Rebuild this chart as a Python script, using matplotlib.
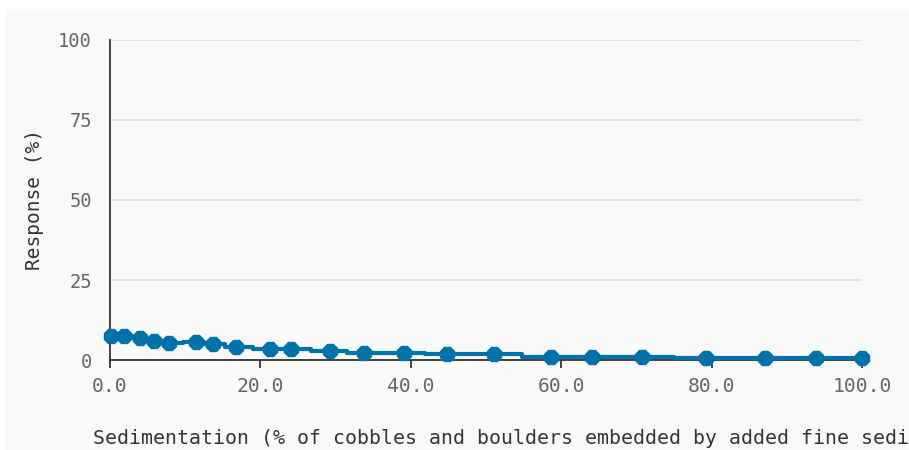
import matplotlib.pyplot as plt
from matplotlib.patches import Rectangle

# values
sedimentation = [0.1, 1.9, 4.0, 5.9, 7.9, 11.4, 13.7, 16.8, 21.3, 24.1, 29.3, 33.8,
                 39.1, 44.8, 51.1, 58.6, 64.1, 70.7, 79.3, 87.1, 93.9, 100.0]
response = [7.5, 7.5, 6.8, 6.0, 5.4, 5.5, 5.0, 4.2, 3.5, 3.5, 2.8, 2.3,
            2.3, 1.8, 1.9, 1.0, 1.0, 1.0, 0.5, 0.5, 0.5, 0.5]
x_ticks = [0, 20, 40, 60, 80, 100]
y_ticks = [0, 25, 50, 75, 100]

blue = '#0072aa'
grey = '#666666'
mono = 'DejaVu Sans Mono'

fig = plt.figure(figsize=(9.09, 4.5), dpi=100)
fig.patch.set_facecolor('white')
fig.patches.append(Rectangle((5 / 909, 0), 1, 441 / 450, transform=fig.transFigure,
                             facecolor='#f9f9f9', edgecolor='none', zorder=-10))

ax = fig.add_axes([110 / 909, 90 / 450, 752 / 909, 320 / 450])
ax.set_facecolor('none')

ax.plot(sedimentation, response, color=blue, lw=3, drawstyle='steps-mid', zorder=3)
ax.plot(sedimentation, response, color=blue, lw=0, marker='8', ms=11, zorder=4)

ax.set_xlim(0, 100)
ax.set_ylim(0, 100)
ax.set_xticks(x_ticks)
ax.set_xticklabels([f'{v:.1f}' for v in x_ticks])
ax.set_yticks(y_ticks)
ax.grid(axis='y', color='#dddddd', lw=1.2)
ax.set_axisbelow(True)

for s in ['top', 'right']:
    ax.spines[s].set_visible(False)
ax.spines['left'].set_color('#333333')
ax.spines['bottom'].set_color('#333333')
ax.spines['left'].set_linewidth(1.3)
ax.spines['bottom'].set_linewidth(1.3)

ax.tick_params(axis='x', length=6, width=1.3, color='#333333', pad=6,
               labelsize=14.2, labelcolor=grey)
ax.tick_params(axis='y', length=0, pad=13, labelsize=13.5, labelcolor=grey)
for lab in ax.get_xticklabels() + ax.get_yticklabels():
    lab.set_family(mono)

ax.set_ylabel('Response (%)', family=mono, fontsize=14, color='#333333', labelpad=10)

# the long axis title runs past the right edge, as in the reference
fig.text(93 / 909, 6 / 450, 'Sedimentation (% of cobbles and boulders embedded by added fine sediment)',
         family=mono, fontsize=14.3, color='#333333', ha='left', va='baseline')

for line in ax.lines:
    line.set_clip_on(False)

fig.savefig('out.png', dpi=100)
